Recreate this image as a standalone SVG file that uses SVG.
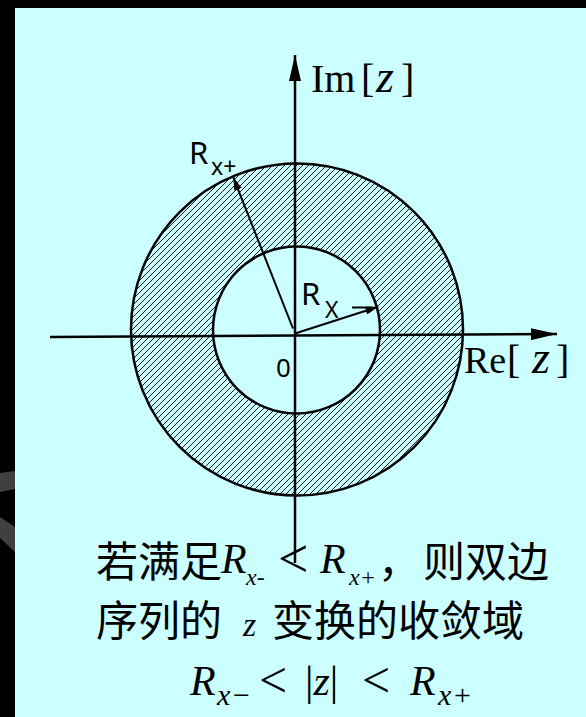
<svg xmlns="http://www.w3.org/2000/svg" width="586" height="717" viewBox="0 0 586 717">
<style>
.cjk{font-family:"Noto Sans CJK SC","Noto Sans",sans-serif;font-size:42px;fill:#000}
.mi{font-family:"Liberation Serif","DejaVu Serif",serif;font-style:italic;fill:#000}
.mr{font-family:"Liberation Serif","DejaVu Serif",serif;fill:#000}
.sans{font-family:"Noto Sans","DejaVu Sans",sans-serif;fill:#000}
.ax{stroke:#000;stroke-width:2.5;fill:none}
.rad{stroke:#000;stroke-width:2;fill:none}
</style>
<defs>
<pattern id="hatch" patternUnits="userSpaceOnUse" width="6" height="6">
<path d="M-1,7 L7,-1 M-4,4 L4,-4 M2,10 L10,2" stroke="#000" stroke-width="0.9"/>
</pattern>
<marker id="bigArrow" viewBox="0 0 26 12" markerWidth="26" markerHeight="12" refX="26" refY="6" orient="auto" markerUnits="userSpaceOnUse">
<path d="M0,0 L26,6 L0,12 Z" fill="#000"/>
</marker>
<marker id="smallArrow" viewBox="0 0 13 8" markerWidth="13" markerHeight="8" refX="13" refY="4" orient="auto" markerUnits="userSpaceOnUse">
<path d="M0,0 L13,4 L0,8 Z" fill="#000"/>
</marker>
</defs>
<rect x="0" y="0" width="586" height="717" fill="#000"/>
<polygon points="0,473 15,471 15,489 0,492" fill="#404040"/>
<polygon points="0,517 15,527 15,552 0,538" fill="#404040"/>
<rect x="15" y="8" width="571" height="709" fill="#CCFFFF"/>

<g id="outer-region">
<circle cx="297" cy="329.5" r="166" fill="url(#hatch)" stroke="#000" stroke-width="2.5"/>
</g>
<g id="inner-region">
<circle cx="296.5" cy="330" r="83.5" fill="#CCFFFF" stroke="#000" stroke-width="2.5"/>
</g>

<g id="connectors">
<line class="ax" x1="295" y1="563" x2="295" y2="55" marker-end="url(#bigArrow)"/>
<line class="ax" x1="50" y1="337" x2="557" y2="334" marker-end="url(#bigArrow)"/>
<line class="rad" x1="293" y1="328.5" x2="233.3" y2="177.3" marker-end="url(#smallArrow)"/>
<line class="rad" x1="295" y1="333.5" x2="378.3" y2="306.7" marker-end="url(#smallArrow)"/>
<line class="rad" x1="352" y1="307.5" x2="372" y2="307.5"/>
</g>

<g id="label-im">
<text class="mr" x="311" y="92" font-size="40">Im</text>
<text class="mr" x="361" y="92" font-size="40">[</text>
<text class="mi" x="376" y="92" font-size="46">z</text>
<text class="mr" x="401" y="92" font-size="40">]</text>
</g>
<g id="label-re">
<text class="mr" x="464" y="373" font-size="38">Re</text>
<text class="mr" x="507" y="373" font-size="40">[</text>
<text class="mi" x="532" y="373" font-size="46">z</text>
<text class="mr" x="556" y="373" font-size="40">]</text>
</g>
<g id="label-rxp">
<text class="sans" x="189" y="164" font-size="31">R</text>
<text class="sans" x="211" y="175" font-size="23">x+</text>
</g>
<g id="label-rx">
<text class="sans" x="301" y="305" font-size="31">R</text>
<text class="sans" x="325" y="318" font-size="23">X</text>
</g>
<g id="label-origin">
<text class="sans" x="276" y="377" font-size="26">0</text>
</g>

<g id="caption">
<text class="cjk" x="96" y="577">若满足</text>
<text class="mi" x="221" y="573" font-size="42">R</text>
<text class="mi" x="246" y="585" font-size="24">x-</text>
<text class="mr" x="278" y="577" font-size="54">&lt;</text>
<text class="mi" x="320" y="573" font-size="42">R</text>
<text class="mi" x="349" y="585" font-size="24">x+</text>
<text class="cjk" x="378" y="577">，</text>
<text class="cjk" x="423" y="577">则双边</text>
<text class="cjk" x="96" y="636">序列的</text>
<text class="mi" x="243" y="636" font-size="34">z</text>
<text class="cjk" x="272" y="636">变换的收敛域</text>
<text class="mi" x="190" y="695" font-size="42">R</text>
<text class="mi" x="217" y="705" font-size="30">x</text>
<text class="mr" x="233" y="705" font-size="30">−</text>
<text class="mr" x="259" y="697" font-size="50">&lt;</text>
<text class="mr" x="305" y="695" font-size="42">|<tspan class="mi">z</tspan>|</text>
<text class="mr" x="362" y="697" font-size="50">&lt;</text>
<text class="mi" x="410" y="695" font-size="42">R</text>
<text class="mi" x="438" y="705" font-size="30">x</text>
<text class="mr" x="454" y="705" font-size="30">+</text>
</g>
</svg>
